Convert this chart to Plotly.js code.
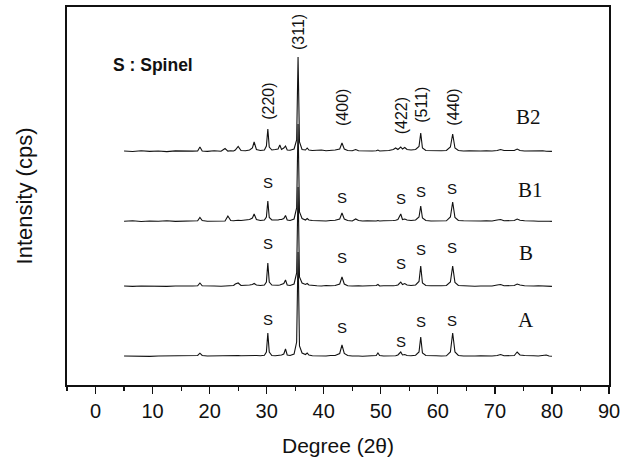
<!DOCTYPE html>
<html>
<head>
<meta charset="utf-8">
<script src="https://cdn.plot.ly/plotly-3.0.1.min.js"></script>
<style>html,body{margin:0;padding:0;background:#fff;}#chart{width:634px;height:466px;}</style>
</head>
<body>
<div id="chart"></div>
<script>
// 2θ grid (degrees), shared by all four patterns
const twoTheta = [
  5.0, 6.5, 8.0, 9.5, 11.0, 12.5, 14.0, 15.5, 17.0, 17.9,
  18.3, 18.7, 19.6, 20.8, 22.0, 22.7, 23.2, 23.7, 24.2, 24.5,
  25.0, 25.5, 26.3, 27.0, 27.5, 27.8, 28.2, 28.9, 29.6, 29.95,
  30.2, 30.45, 30.9, 31.5, 32.0, 32.3, 32.6, 33.0, 33.3, 33.6,
  34.1, 34.8, 35.25, 35.5, 35.75, 36.2, 36.8, 37.1, 37.4, 38.0,
  38.8, 39.6, 40.4, 41.2, 42.0, 42.8, 43.2, 43.6, 44.2, 45.0,
  45.6, 46.1, 46.8, 47.6, 48.5, 49.2, 49.5, 49.8, 50.5, 51.4,
  52.2, 52.6, 53.0, 53.5, 53.8, 54.2, 54.6, 55.3, 56.1, 56.7,
  57.0, 57.3, 57.9, 58.8, 59.7, 60.6, 61.5, 62.2, 62.6, 63.0,
  63.6, 64.5, 65.5, 66.5, 67.5, 68.5, 69.5, 70.4, 71.0, 71.6,
  72.5, 73.4, 73.9, 74.4, 75.2, 76.0, 76.8, 77.6, 78.4, 79.0,
  79.5, 80.0
];

// Intensities (arbitrary units)
const intensityB2 = [
  1.0, 0.5, 1.2, 0.6, 1.0, 0.4, 1.1, 0.7, 0.9, 1.0,
  5.0, 1.0, 0.6, 1.2, 0.8, 3.5, 0.9, 1.3, 1.0, 2.0,
  5.5, 1.5, 1.2, 2.0, 4.0, 10.0, 2.5, 1.5, 2.0, 6.0,
  23.0, 5.0, 2.0, 2.5, 3.0, 7.0, 2.5, 4.0, 6.0, 2.0,
  1.8, 3.0, 12.0, 95.0, 10.0, 2.5, 2.0, 4.0, 2.0, 1.5,
  1.5, 2.0, 1.2, 1.5, 2.0, 3.0, 9.0, 3.0, 1.5, 1.2,
  2.5, 1.2, 1.0, 1.3, 1.0, 1.2, 2.0, 1.0, 1.2, 1.5,
  2.5, 4.0, 2.5, 5.0, 3.0, 4.5, 2.5, 2.0, 2.5, 5.5,
  19.0, 4.0, 1.5, 1.2, 1.0, 1.2, 1.5, 5.0, 18.0, 4.0,
  1.5, 1.0, 1.2, 0.8, 1.0, 1.3, 1.0, 1.5, 2.5, 1.5,
  1.2, 1.5, 3.0, 1.5, 1.0, 1.2, 0.8, 1.0, 1.2, 0.8,
  1.0, 0.6
];
const intensityB1 = [
  0.8, 1.2, 0.5, 1.0, 0.7, 1.2, 0.6, 1.0, 0.8, 1.2,
  4.5, 1.5, 0.8, 1.0, 1.2, 1.0, 6.0, 1.5, 1.2, 1.5,
  1.8, 1.5, 2.0, 2.5, 4.0, 8.0, 2.5, 1.5, 2.0, 5.0,
  21.0, 4.5, 2.0, 1.8, 2.0, 2.5, 2.5, 3.5, 6.5, 2.0,
  1.5, 3.0, 14.0, 98.0, 10.0, 3.5, 2.0, 3.5, 2.0, 1.5,
  1.2, 1.5, 1.0, 1.5, 1.8, 3.0, 9.0, 3.0, 1.5, 1.0,
  3.0, 1.5, 1.0, 1.2, 0.8, 1.0, 1.5, 1.0, 1.2, 1.0,
  1.5, 1.8, 2.5, 8.0, 2.5, 3.0, 2.0, 1.5, 2.0, 5.0,
  16.0, 4.0, 1.5, 1.0, 1.2, 1.0, 1.2, 5.0, 20.0, 4.5,
  1.5, 1.2, 1.0, 0.8, 1.0, 1.2, 1.0, 2.0, 2.5, 1.2,
  1.0, 1.5, 3.0, 1.8, 1.2, 0.8, 1.0, 0.8, 1.0, 1.2,
  0.8, 0.6
];
const intensityB = [
  1.0, 0.6, 1.0, 0.8, 1.2, 0.6, 1.0, 0.7, 1.0, 1.2,
  4.0, 1.2, 0.8, 1.0, 0.8, 1.0, 1.2, 1.0, 1.5, 3.0,
  4.0, 1.5, 1.5, 2.0, 2.5, 3.5, 2.0, 1.5, 2.0, 5.0,
  24.0, 5.0, 2.0, 1.5, 1.8, 2.0, 2.5, 3.5, 7.0, 2.0,
  1.5, 3.0, 14.0, 100.0, 10.0, 4.0, 2.5, 3.5, 2.0, 1.5,
  1.2, 1.0, 1.5, 1.2, 1.5, 3.0, 10.0, 3.0, 1.2, 1.0,
  1.5, 1.2, 1.0, 1.2, 1.0, 1.5, 2.5, 1.0, 1.2, 1.0,
  1.2, 1.5, 2.0, 5.0, 2.5, 3.5, 2.0, 1.5, 2.0, 5.5,
  21.0, 4.0, 1.5, 1.2, 1.0, 1.2, 1.5, 5.0, 21.0, 4.5,
  1.5, 1.2, 1.0, 0.8, 1.0, 1.2, 1.0, 2.0, 2.5, 1.2,
  1.0, 1.5, 3.0, 2.0, 1.2, 0.8, 1.0, 1.2, 0.8, 1.0,
  0.8, 0.6
];
const intensityA = [
  1.0, 0.8, 1.2, 0.6, 1.0, 1.2, 0.8, 1.0, 1.2, 1.5,
  3.8, 1.5, 1.0, 1.2, 1.0, 1.5, 1.0, 1.2, 1.5, 1.2,
  1.5, 1.2, 1.5, 1.2, 1.5, 1.8, 1.5, 1.2, 1.8, 5.0,
  24.0, 5.0, 1.5, 1.2, 1.5, 1.8, 2.0, 3.0, 8.0, 2.0,
  1.5, 3.0, 15.0, 105.0, 11.0, 4.0, 2.5, 4.0, 2.0, 1.2,
  1.0, 1.2, 1.0, 1.5, 1.5, 3.5, 12.0, 3.5, 1.5, 1.0,
  1.2, 1.0, 0.8, 1.0, 1.2, 1.5, 4.0, 1.5, 1.0, 0.8,
  1.0, 1.2, 2.0, 5.0, 2.0, 2.5, 1.5, 1.2, 1.8, 5.0,
  20.0, 4.0, 1.5, 1.0, 1.2, 1.0, 1.2, 5.0, 24.0, 5.0,
  1.5, 1.0, 0.8, 1.0, 1.2, 0.8, 1.0, 1.5, 2.5, 1.2,
  1.0, 1.5, 5.0, 2.0, 1.5, 1.0, 1.2, 1.0, 1.5, 2.0,
  1.0, 0.8
];

// Vertical stacking offsets of each pattern
const sampleNames = ["A", "B", "B1", "B2"];
const sampleOffsets = [28, 98, 163, 233];
const sampleSeries = [intensityA, intensityB, intensityB1, intensityB2];

// Tick labels of the 2θ axis
const xTickValues = [0, 10, 20, 30, 40, 50, 60, 70, 80, 90];
const xTickLabels = ["0", "10", "20", "30", "40", "50", "60", "70", "80", "90"];

// Reflection labels
const hklLabels = ["(220)", "(311)", "(400)", "(422)", "(511)", "(440)"];
const hklPositions = [30.2, 35.5, 43.2, 53.6, 57.0, 62.6];

const traces = sampleSeries.map((vals, i) => ({
  type: "scatter",
  mode: "lines",
  name: sampleNames[i],
  x: twoTheta,
  y: vals.map(v => v + sampleOffsets[i]),
  line: {color: "#111", width: 1.1},
  showlegend: false,
  hoverinfo: "skip"
}));

const sansFont = "Liberation Sans, Arial, sans-serif";
const serifFont = "Liberation Serif, Times New Roman, serif";

const ann = [];
// hkl labels (rotated), y in data units
const hklY = [284, 353, 278, 269, 280, 278];
hklLabels.forEach((t, i) => ann.push({
  text: t, x: hklPositions[i], y: hklY[i], xref: "x", yref: "y",
  textangle: -90, showarrow: false, font: {family: sansFont, size: 16, color: "#111"}
}));
// sample names
const nameX = [75.4, 75.4, 76.2, 75.9];
const nameY = [65, 132, 195, 268];
sampleNames.forEach((t, i) => ann.push({
  text: t, x: nameX[i], y: nameY[i], xref: "x", yref: "y", showarrow: false,
  font: {family: serifFont, size: 21, color: "#111"}
}));
// "S" spinel marks
const sX = [30.2, 43.2, 53.5, 57.0, 62.5];
const sY = [
  [66, 58, 44, 64, 65],     // A
  [142, 128, 122, 136, 138],// B
  [203, 188, 187, 194, 197] // B1
];
sY.forEach(row => row.forEach((yy, j) => ann.push({
  text: "S", x: sX[j], y: yy, xref: "x", yref: "y", showarrow: false,
  font: {family: sansFont, size: 15, color: "#111"}
})));
ann.push({
  text: "<b>S : Spinel</b>", x: 2.7, y: 320, xref: "x", yref: "y", xanchor: "left",
  showarrow: false, font: {family: sansFont, size: 17.5, color: "#111"}
});

const layout = {
  width: 634, height: 466,
  margin: {l: 67, r: 25, t: 7, b: 81},
  paper_bgcolor: "#fff", plot_bgcolor: "#fff",
  font: {family: sansFont, color: "#111"},
  xaxis: {
    range: [-5, 90],
    tickmode: "array", tickvals: xTickValues, ticktext: xTickLabels,
    ticks: "outside", ticklen: 7, tickwidth: 1.3, tickcolor: "#111",
    minor: {dtick: 5, tick0: 0, ticks: "outside", ticklen: 4, tickwidth: 1.2, tickcolor: "#111", showgrid: false},
    showline: true, mirror: true, linecolor: "#111", linewidth: 1.6,
    showgrid: false, zeroline: false,
    tickfont: {family: sansFont, size: 20, color: "#111"},
    title: {text: "Degree (2θ)", font: {family: sansFont, size: 21, color: "#111"}, standoff: 18}
  },
  yaxis: {
    range: [0, 378],
    showticklabels: false, ticks: "",
    showline: true, mirror: true, linecolor: "#111", linewidth: 1.6,
    showgrid: false, zeroline: false,
    title: {text: "Intensity (cps)", font: {family: sansFont, size: 22, color: "#111"}, standoff: 27}
  },
  annotations: ann
};

Plotly.newPlot("chart", traces, layout, {staticPlot: true, displayModeBar: false});
</script>
</body>
</html>
